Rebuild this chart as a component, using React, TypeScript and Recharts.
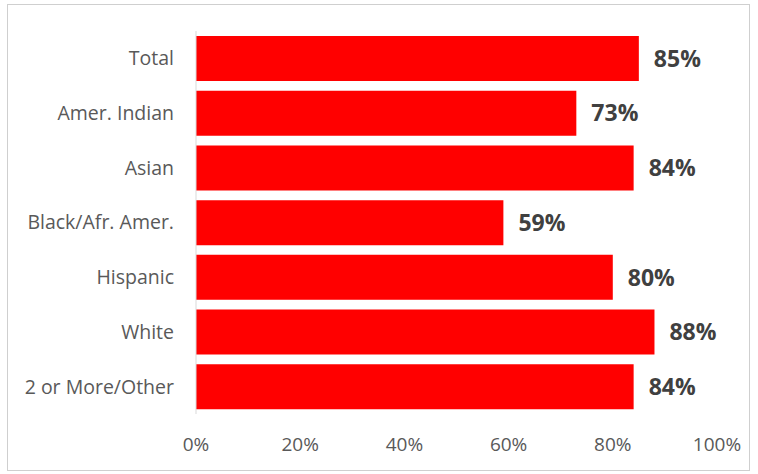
import { BarChart, Bar, XAxis, YAxis, LabelList } from 'recharts';

const groups = ['Total', 'Amer. Indian', 'Asian', 'Black/Afr. Amer.', 'Hispanic', 'White', '2 or More/Other'];
const rates = [85, 73, 84, 59, 80, 88, 84];
const xTicks = [0, 20, 40, 60, 80, 100];

const data = groups.map((group, i) => ({ group, rate: rates[i] }));

const font = "'Open Sans', 'Noto Sans', sans-serif";

export default function App() {
  return (
    <div
      style={{
        position: 'absolute',
        left: 7,
        top: 4,
        width: 743,
        height: 467,
        border: '1px solid #cfcfcf',
        background: '#fff',
        boxSizing: 'border-box',
      }}
    >
      <BarChart
        width={741}
        height={465}
        data={data}
        layout="vertical"
        margin={{ top: 26, right: 32, left: 0, bottom: 26 }}
        barSize={45}
      >
        <XAxis
          type="number"
          domain={[0, 100]}
          ticks={xTicks}
          tickFormatter={(v: number) => `${v}%`}
          axisLine={false}
          tickLine={false}
          tickSize={0}
          tickMargin={24}
          height={30}
          tick={{ fontSize: 19, fill: '#595959', fontFamily: font }}
        />
        <YAxis
          type="category"
          dataKey="group"
          width={188}
          axisLine={{ stroke: '#d9d9d9' }}
          tickLine={false}
          tickSize={0}
          tickMargin={22}
          tick={{ fontSize: 19.5, fill: '#595959', fontFamily: font }}
        />
        <Bar dataKey="rate" fill="#ff0000" isAnimationActive={false}>
          <LabelList
            dataKey="rate"
            position="right"
            offset={15}
            formatter={(v: number) => `${v}%`}
            style={{ fontSize: 23, fontWeight: 700, fill: '#404040', fontFamily: font }}
          />
        </Bar>
      </BarChart>
    </div>
  );
}
